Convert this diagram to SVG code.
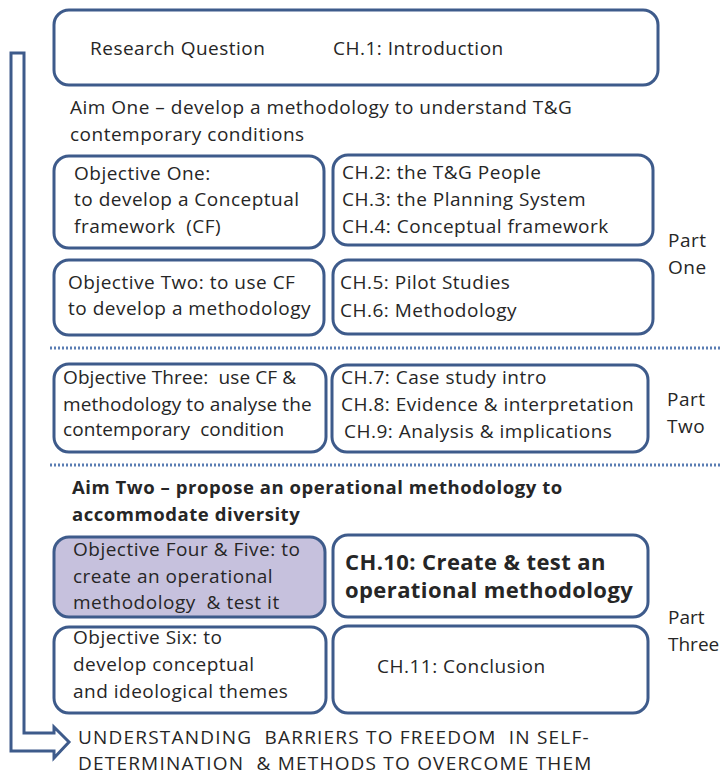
<svg xmlns="http://www.w3.org/2000/svg" width="721" height="776" viewBox="0 0 721 776">
  <style>
    .box { fill: #ffffff; stroke: #3e5b8b; stroke-width: 3; }
    .box.hl { fill: #c6c1dd; }
    .t { font-family: "Open Sans", "Liberation Sans", sans-serif; font-size: 19px; letter-spacing: 0.5px; fill: #262626; white-space: pre; }
    .tight { letter-spacing: 0.1px; }
    .b { font-weight: bold; font-size: 18.5px; letter-spacing: 0.55px; }
    .big { font-size: 22px; letter-spacing: 0.4px; }
    .cap { font-size: 19px; letter-spacing: 1.2px; }
    .sep { stroke: #5a7db3; stroke-width: 3; stroke-dasharray: 2 2; fill: none; }
    .flow { fill: #ffffff; stroke: #3e5b8b; stroke-width: 3; stroke-linejoin: miter; }
  </style>

  <!-- page background -->
  <rect width="721" height="776" fill="#ffffff"/>

  <!-- connectors: hollow block arrow down the left side, and section separators -->
  <g id="connectors">
    <path class="flow" d="M11,53 L24,53 L24,733 L54,733 L54,727 L69,742 L54,758 L54,751 L11,751 Z"/>
    <line class="sep" x1="50" y1="348" x2="721" y2="348"/>
    <line class="sep" x1="50" y1="465" x2="721" y2="465"/>
  </g>

  <g id="research-question">
    <rect class="box" x="54" y="10" width="604" height="75" rx="15"/>
    <text class="t" x="90" y="55">Research Question</text>
    <text class="t" x="333" y="55">CH.1: Introduction</text>
  </g>

  <g id="aim-one">
    <text class="t" x="70" y="114">Aim One – develop a methodology to understand T&amp;G</text>
    <text class="t" x="70" y="141">contemporary conditions</text>
  </g>

  <g id="objective-one">
    <rect class="box" x="54" y="156" width="270" height="92" rx="15"/>
    <text class="t" x="74" y="180">Objective One:</text>
    <text class="t" x="74" y="206">to develop a Conceptual</text>
    <text class="t" x="74" y="233">framework  (CF)</text>
  </g>

  <g id="chapters-2-4">
    <rect class="box" x="333" y="155" width="320" height="90" rx="15"/>
    <text class="t" x="342" y="179">CH.2: the T&amp;G People</text>
    <text class="t" x="342" y="206">CH.3: the Planning System</text>
    <text class="t" x="342" y="233">CH.4: Conceptual framework</text>
  </g>

  <g id="objective-two">
    <rect class="box" x="54" y="260" width="270" height="75" rx="15"/>
    <text class="t" x="68" y="289">Objective Two: to use CF</text>
    <text class="t" x="68" y="315">to develop a methodology</text>
  </g>

  <g id="chapters-5-6">
    <rect class="box" x="333" y="260" width="320" height="74" rx="15"/>
    <text class="t" x="340" y="289">CH.5: Pilot Studies</text>
    <text class="t" x="340" y="317">CH.6: Methodology</text>
  </g>

  <g id="part-one">
    <text class="t" x="668" y="247">Part</text>
    <text class="t" x="668" y="274">One</text>
  </g>

  <g id="objective-three">
    <rect class="box" x="54" y="364" width="272" height="88" rx="15"/>
    <text class="t tight" x="63" y="384">Objective Three:  use CF &amp;</text>
    <text class="t tight" x="63" y="411">methodology to analyse the</text>
    <text class="t tight" x="63" y="436">contemporary  condition</text>
  </g>

  <g id="chapters-7-9">
    <rect class="box" x="332" y="365" width="316" height="87" rx="15"/>
    <text class="t" x="341" y="384">CH.7: Case study intro</text>
    <text class="t" x="341" y="411">CH.8: Evidence &amp; interpretation</text>
    <text class="t" x="344" y="438">CH.9: Analysis &amp; implications</text>
  </g>

  <g id="part-two">
    <text class="t" x="667" y="406">Part</text>
    <text class="t" x="667" y="433">Two</text>
  </g>

  <g id="aim-two">
    <text class="t b" x="72" y="494">Aim Two – propose an operational methodology to</text>
    <text class="t b" x="72" y="521">accommodate diversity</text>
  </g>

  <g id="objective-four-five">
    <rect class="box hl" x="54" y="537" width="271" height="80" rx="15"/>
    <text class="t" x="73" y="556">Objective Four &amp; Five: to</text>
    <text class="t" x="73" y="583">create an operational</text>
    <text class="t" x="73" y="609">methodology  &amp; test it</text>
  </g>

  <g id="chapter-10">
    <rect class="box" x="333" y="535" width="315" height="82" rx="15"/>
    <text class="t b big" x="345" y="570">CH.10: Create &amp; test an</text>
    <text class="t b big" x="345" y="598">operational methodology</text>
  </g>

  <g id="objective-six">
    <rect class="box" x="54" y="627" width="272" height="86" rx="15"/>
    <text class="t" x="73" y="644">Objective Six: to</text>
    <text class="t" x="73" y="671">develop conceptual</text>
    <text class="t" x="73" y="698">and ideological themes</text>
  </g>

  <g id="chapter-11">
    <rect class="box" x="333" y="626" width="315" height="87" rx="15"/>
    <text class="t" x="377" y="673">CH.11: Conclusion</text>
  </g>

  <g id="part-three">
    <text class="t" x="668" y="624" style="letter-spacing:0">Part</text>
    <text class="t" x="668" y="651" style="letter-spacing:0">Three</text>
  </g>

  <g id="outcome">
    <text class="t cap" x="78" y="744">UNDERSTANDING  BARRIERS TO FREEDOM  IN SELF-</text>
    <text class="t cap" x="78" y="770">DETERMINATION  &amp; METHODS TO OVERCOME THEM</text>
  </g>
</svg>
